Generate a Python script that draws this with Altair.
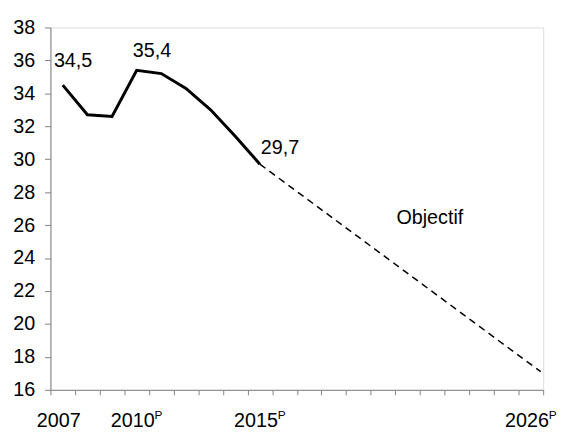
import altair as alt
import pandas as pd

# ---- data ----
years = [2007, 2008, 2009, 2010, 2011, 2012, 2013, 2014, 2015]
values = [34.5, 32.7, 32.6, 35.4, 35.2, 34.3, 33.0, 31.4, 29.7]
target_years = [2015, 2026.4]
target_values = [29.7, 17.1]
label_years = [2007, 2010, 2015]
label_values = [34.5, 35.4, 29.7]
label_texts = ["34,5", "35,4", "29,7"]
xlabel_years = [2007, 2010, 2015, 2026]
xlabel_texts = ["2007", "2010", "2015", "2026"]
xlabel_sup = ["", "P", "P", "P"]
y_ticks = [16, 18, 20, 22, 24, 26, 28, 30, 32, 34, 36, 38]
x_edges = [2006.5 + i for i in range(21)]
annot_text = ["Objectif"]
annot_year = [2021.9]
annot_value = [26.4]

FONT = "Liberation Sans"
GRAY = "#808080"
FS = 20

xs = alt.Scale(domain=[2006.5, 2026.5], nice=False, zero=False)
ys = alt.Scale(domain=[16, 38], nice=False, zero=False)

hist = pd.DataFrame({"year": years, "value": values})
target = pd.DataFrame({"year": target_years, "value": target_values})
labels = pd.DataFrame({"year": label_years, "value": label_values, "text": label_texts})
xlab = pd.DataFrame({"year": xlabel_years, "text": xlabel_texts, "sup": xlabel_sup})
annot = pd.DataFrame({"year": annot_year, "value": annot_value, "text": annot_text})

x_axis = alt.Axis(values=x_edges, labels=False, title=None, grid=False,
                  tickSize=5, tickColor=GRAY, domainColor=GRAY, tickWidth=1,
                  labelOverlap=False)
y_axis = alt.Axis(values=y_ticks, title=None, grid=False, tickSize=6,
                  tickColor=GRAY, domainColor=GRAY, labelFont=FONT,
                  labelFontSize=FS, labelColor="black", labelPadding=10,
                  labelOverlap=False)


def X():
    return alt.X("year:Q", scale=xs, axis=x_axis)


def Y():
    return alt.Y("value:Q", scale=ys, axis=y_axis)


line = alt.Chart(hist).mark_line(color="black", strokeWidth=3).encode(x=X(), y=Y())

dashed = alt.Chart(target).mark_line(
    color="black", strokeWidth=1.5, strokeDash=[7, 5]
).encode(x=X(), y=Y())


def data_label(i, dx, dy):
    return alt.Chart(labels.iloc[[i]]).mark_text(
        font=FONT, fontSize=FS, align="left", baseline="alphabetic",
        dx=dx, dy=dy, color="black",
    ).encode(x=X(), y=Y(), text="text:N")


lab1 = data_label(0, -9, -18)
lab2 = data_label(1, -4, -13)
lab3 = data_label(2, 1, -10)

xnum = alt.Chart(xlab).mark_text(
    font=FONT, fontSize=FS, align="center", baseline="alphabetic", dx=-4, color="black"
).encode(x=X(), y=alt.value(405), text="text:N")

xsup = alt.Chart(xlab).mark_text(
    font=FONT, fontSize=12, align="left", baseline="alphabetic", dx=18, color="black"
).encode(x=X(), y=alt.value(397), text="sup:N")

obj = alt.Chart(annot).mark_text(
    font=FONT, fontSize=FS, align="center", baseline="middle", color="black"
).encode(x=X(), y=Y(), text="text:N")

chart = alt.layer(line, dashed, lab1, lab2, lab3, xnum, xsup, obj).properties(
    width=499, height=367,
    autosize="none",
    padding={"left": 43, "top": 17, "right": 14, "bottom": 40},
).configure_view(stroke=None).configure(background="white")

chart.save("out.html", embed_options={"renderer": "svg", "actions": False})
